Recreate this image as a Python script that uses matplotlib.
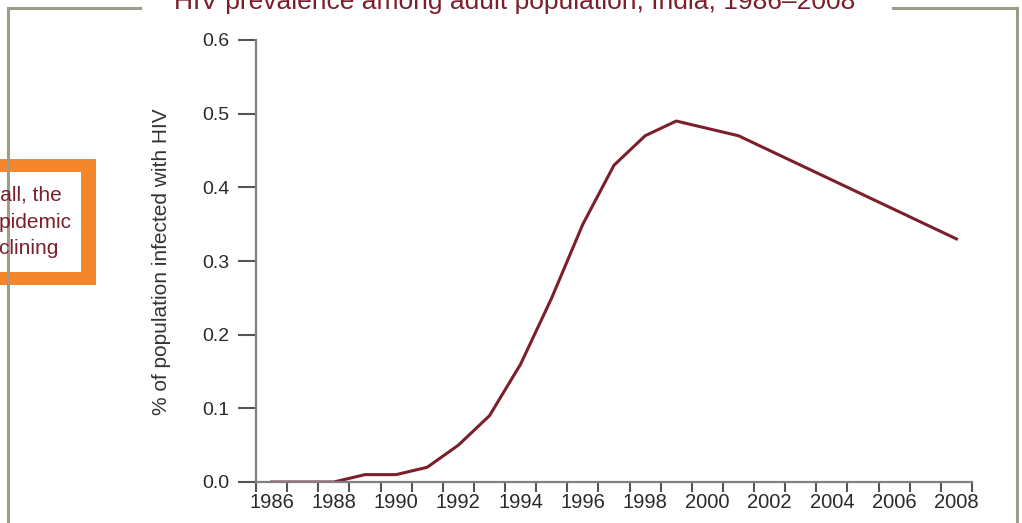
import matplotlib
matplotlib.use("Agg")
import matplotlib.pyplot as plt
from matplotlib.patches import Rectangle
from matplotlib.lines import Line2D

plt.rcParams['font.family'] = ['Liberation Sans', 'DejaVu Sans']

# dati
years = list(range(1986, 2009))
prevalence = [0.0, 0.0, 0.0, 0.01, 0.01, 0.02, 0.05, 0.09, 0.16, 0.25, 0.35, 0.43,
              0.47, 0.49, 0.48, 0.47, 0.45, 0.43, 0.41, 0.39, 0.37, 0.35, 0.33]
label_years = list(range(1986, 2009, 2))
y_ticks = [0.0, 0.1, 0.2, 0.3, 0.4, 0.5, 0.6]

title = "HIV prevalence among adult population, India, 1986\u20132008"
ylabel = "% of population infected with HIV"
box_lines = ["Overall, the", "HIV epidemic", "is declining"]

dark_red = "#7a1f2b"
frame_col = "#9e9d8a"
orange = "#f4862e"

W, H = 1022, 523
fig = plt.figure(figsize=(W / 100, H / 100), dpi=100)

def fx(px):
    return px / W

def fy(py):
    return 1 - py / H

ax = fig.add_axes([fx(256), fy(482), fx(972) - fx(256), fy(40) - fy(482)])
ax.plot(years, prevalence, color=dark_red, lw=2.2, solid_joinstyle='round')

ax.set_xlim(1985.5, 2008.5)
ax.set_ylim(0, 0.6)
for s in ['top', 'right']:
    ax.spines[s].set_visible(False)
for s in ['left', 'bottom']:
    ax.spines[s].set_color('#808080')
    ax.spines[s].set_linewidth(1.6)

ax.set_yticks(y_ticks)
ax.set_yticklabels(["%.1f" % v for v in y_ticks])
ax.tick_params(axis='y', length=13, width=1.5, color='#555555', pad=6,
               labelsize=14, labelcolor='#2a2a2a')

ax.set_xticks(label_years)
ax.set_xticklabels([str(y) for y in label_years])
ax.set_xticks([y - 0.5 for y in years] + [2008.5], minor=True)
ax.tick_params(axis='x', which='major', length=0, pad=8, labelsize=14.5,
               labelcolor='#2a2a2a')
ax.tick_params(axis='x', which='minor', length=7, width=1.5, color='#555555')

ax.set_ylabel(ylabel, fontsize=15, color='#333333')
ax.yaxis.set_label_coords((171 - 256) / (972 - 256), (482 - 262) / (482 - 40))

# cornice
fl = dict(color=frame_col, lw=2.2, transform=fig.transFigure)
fig.add_artist(Line2D([fx(8), fx(8)], [fy(8), 0], **fl))
fig.add_artist(Line2D([fx(8), fx(140)], [fy(8), fy(8)], **fl))
fig.add_artist(Line2D([fx(893), fx(1017)], [fy(8), fy(8)], **fl))
fig.add_artist(Line2D([fx(1017), fx(1017)], [fy(8), 0], **fl))

fig.text(fx(515), fy(9), title, ha='center', va='baseline', fontsize=19,
         color=dark_red)

# riquadro arancione
fig.add_artist(Rectangle((fx(-40), fy(285)), fx(136), fy(159) - fy(285),
                         transform=fig.transFigure, facecolor=orange, edgecolor='none'))
fig.add_artist(Rectangle((fx(-40), fy(272)), fx(121), fy(172) - fy(272),
                         transform=fig.transFigure, facecolor='white', edgecolor='none'))
for txt, yc, xr in zip(box_lines, [195, 222, 249], [62, 71, 58]):
    fig.text(fx(xr), fy(yc), txt, ha='right', va='center', fontsize=15,
             color=dark_red)

fig.savefig("out.png", dpi=100)
